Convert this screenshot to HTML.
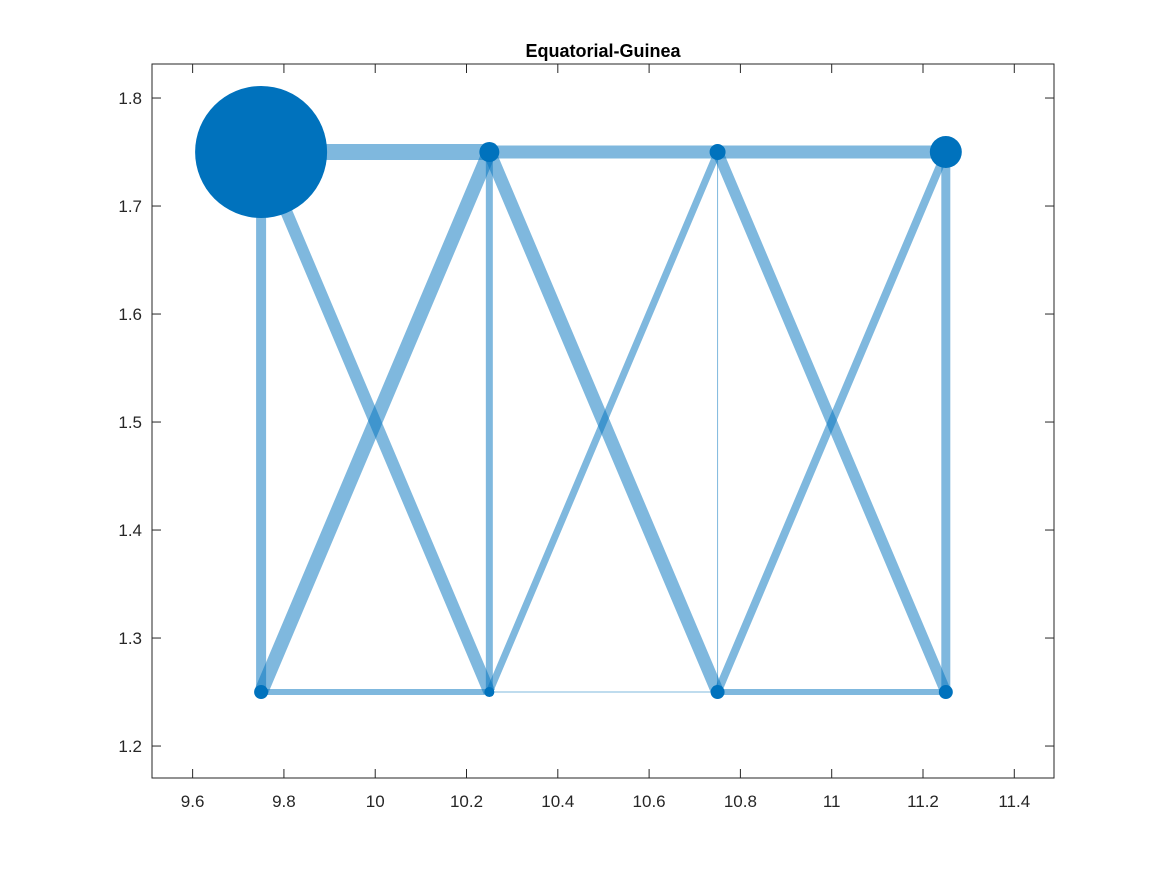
<!DOCTYPE html>
<html><head><meta charset="utf-8"><style>
body{margin:0;background:#fff;}
svg text{font-family:"Liberation Sans",sans-serif;fill:#262626;}
</style></head><body>
<svg id="chart" width="1167" height="875" xmlns="http://www.w3.org/2000/svg">
<rect width="1167" height="875" fill="#fff"/>
<text x="603" y="57" text-anchor="middle" font-size="18" font-weight="bold" style="fill:#000">Equatorial-Guinea</text>
<g id="edges"></g><g id="nodes"></g><g id="axes"></g>
</svg>
<script>
const xTicks=[9.6,9.8,10,10.2,10.4,10.6,10.8,11,11.2,11.4];
const xTickLabels=["9.6","9.8","10","10.2","10.4","10.6","10.8","11","11.2","11.4"];
const yTicks=[1.2,1.3,1.4,1.5,1.6,1.7,1.8];
const yTickLabels=["1.2","1.3","1.4","1.5","1.6","1.7","1.8"];
const nodeX=[9.75,10.25,10.75,11.25,9.75,10.25,10.75,11.25];
const nodeY=[1.75,1.75,1.75,1.75,1.25,1.25,1.25,1.25];
const nodeSize=[66,10,8,16,7,5,7,7];
const edgeFrom=[0,1,2,4,5,6,0,1,2,3,0,4,1,5,2,6];
const edgeTo=[1,2,3,5,6,7,4,5,6,7,5,1,6,2,7,3];
const edgeWeight=[16,13,13,6,1,6,10,7,1,9,12,14,13,7,11,8];
const L=152,R=1054,T=64,B=778,xmin=9.511,xmax=11.487,ymin=1.1704,ymax=1.8315;
const sx=v=>L+(v-xmin)/(xmax-xmin)*(R-L);
const sy=v=>B-(v-ymin)/(ymax-ymin)*(B-T);
const NS="http://www.w3.org/2000/svg";
function mk(t,a,p){const e=document.createElementNS(NS,t);for(const k in a)e.setAttribute(k,a[k]);p.appendChild(e);return e;}
const eg=document.getElementById('edges'),ng=document.getElementById('nodes'),ag=document.getElementById('axes');
edgeFrom.forEach((f,i)=>{const t=edgeTo[i];
 const l=mk('line',{x1:sx(nodeX[f]),y1:sy(nodeY[f]),x2:sx(nodeX[t]),y2:sy(nodeY[t]),stroke:'#0072BD','stroke-opacity':0.5,'stroke-width':edgeWeight[i]},eg);
 
 });
nodeX.forEach((x,i)=>{const c=mk('circle',{cx:sx(x),cy:sy(nodeY[i]),r:nodeSize[i],fill:'#0072BD'},ng);
 
 });
const box=mk('rect',{x:L,y:T,width:R-L,height:B-T,fill:'none',stroke:'#262626','stroke-width':1},ag);


xTicks.forEach((v,i)=>{const x=sx(v);
 mk('line',{x1:x,y1:B,x2:x,y2:B-9,stroke:'#262626'},ag);mk('line',{x1:x,y1:T,x2:x,y2:T+9,stroke:'#262626'},ag);
 const t=mk('text',{x:x,y:B+29,'text-anchor':'middle','font-size':17},ag);t.textContent=xTickLabels[i];
 
 });
yTicks.forEach((v,i)=>{const y=sy(v);
 mk('line',{x1:L,y1:y,x2:L+9,y2:y,stroke:'#262626'},ag);mk('line',{x1:R,y1:y,x2:R-9,y2:y,stroke:'#262626'},ag);
 const t=mk('text',{x:L-10,y:y+6,'text-anchor':'end','font-size':17},ag);t.textContent=yTickLabels[i];
 
 });
</script>
</body></html>
